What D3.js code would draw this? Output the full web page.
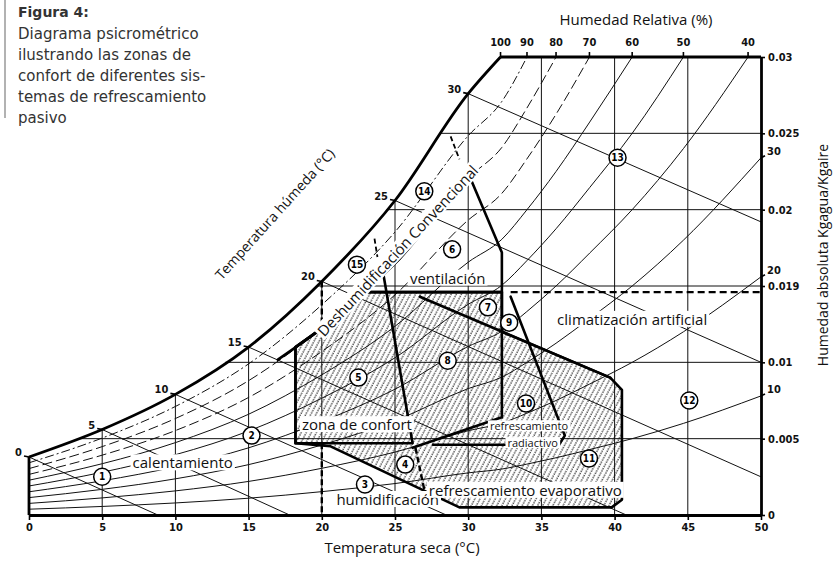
<!DOCTYPE html>
<html>
<head>
<meta charset="utf-8">
<script src="https://cdn.jsdelivr.net/npm/d3@7"></script>
<style>
body { margin: 0; background: #fff; }
svg { display: block; }
</style>
</head>
<body>
<script>
// saturation curve (dry bulb °C, kg/kg), extended past the frame using the RH crossings
var satT = [0, 5, 10, 15, 20, 25, 30, 32.3, 34, 36, 38.3, 41.2, 44.7, 50];
var satW = [0.0038, 0.0056, 0.0079, 0.0110, 0.0153, 0.0206, 0.0276, 0.0301, 0.0333, 0.0375, 0.0429, 0.0500, 0.0600, 0.0780];

var rhLevels = [100, 90, 80, 70, 60, 50, 40, 30, 20, 10];
var dryTicks = [0, 5, 10, 15, 20, 25, 30, 35, 40, 45, 50];
var gridT = [5, 10, 15, 20, 25, 30, 35, 40, 45];
var gridW = [0.005, 0.01, 0.015, 0.02, 0.025];
var wTicks = [0, 0.005, 0.01, 0.015, 0.02, 0.025, 0.03];
var wTickLabels = ["0", "0.005", "0.01", "0.019", "0.02", "0.025", "0.03"];

// wet bulb lines: start on saturation, end point
var wbTemps = [0, 5, 10, 15, 20, 25, 30];
var wbEndT = [8.8, 17.8, 28.5, 40.8, 50, 50, 50];
var wbEndW = [0, 0, 0, 0, 0.0025, 0.0100, 0.0192];

// zones
var zoneRH = 0.8;                 // thick inner curve
var ventW = 0.0146;               // ventilation limit
var comfortT = [18.2, 24.2, 26.2];
var comfortW = [0.0047, 0.0047];
var evapT = [32.3, 32.3, 39.7, 40.5, 40.5, 39.8, 29.4, 20.6];
var evapW = [0.0146, 0.0120, 0.0090, 0.0082, 0.0010, 0.0005, 0.0005, 0.0045];
var ventApexT = 30.1;
var ventT = [32.3, 32.3];
var ventW2 = [0.0172, 0.0146];
var coolDiagT = [26.7, 39.7], coolDiagW = [0.0143, 0.0090];
var radT = [32.9, 36.6, 36.2, 27.6], radW = [0.0143, 0.0052, 0.0046, 0.0046];
var radStemT = [32.3, 32.3, 26.2], radStemW = [0.0146, 0.0064, 0.0044];
var dashT20W = [[0.0153, 0.0122], [0.0047, 0]];
var dashHumT = [26.4, 27.1], dashHumW = [0.0044, 0.0012];
var dehumDashT = [[28.8, 29.4], [23.6, 23.8]];
var dehumDashW = [[0.0248, 0.0233], [0.0181, 0.0169]];

// numbered zones
var markerIds = [1, 2, 3, 4, 5, 6, 7, 8, 9, 10, 11, 12, 13, 14, 15];
var markerT = [5.0, 15.2, 22.95, 25.7, 22.5, 28.9, 31.35, 28.6, 32.8, 33.95, 38.25, 45.1, 40.2, 27.0, 22.4];
var markerW = [0.0025, 0.0052, 0.0020, 0.0033, 0.0090, 0.0174, 0.0136, 0.0101, 0.0126, 0.0073, 0.0037, 0.0075, 0.0234, 0.0212, 0.0164];

var zoneNames = ["calentamiento", "zona de confort", "ventilación", "humidificación", "refrescamiento evaporativo", "climatización artificial"];
var zoneNameT = [10.5, 22.4, 28.6, 24.5, 33.9, 41.2];
var zoneNameW = [0.0034, 0.0059, 0.0155, 0.0010, 0.0016, 0.0128];
var radNames = ["refrescamiento", "radiactivo"];
var radNameT = [34.15, 34.4];
var radNameW = [0.0058, 0.0047];

var captionTitle = "Figura 4:";
var captionLines = ["Diagrama psicrométrico", "ilustrando las zonas de", "confort de diferentes sis-", "temas de refrescamiento", "pasivo"];

var x = d3.scaleLinear().domain([0, 50]).range([29, 761]);
var y = d3.scaleLinear().domain([0, 0.03]).range([515, 57]);
var wsat = d3.scaleLinear().domain(satT).range(satW);
var tsat = d3.scaleLinear().domain(satW).range(satT);

function rhEnd(r) { return r * wsat(50) > 0.03 ? tsat(0.03 / r) : 50; }
function rhCurve(r, t0, t1) {
    var ts = [t0].concat(satT.filter(t => t > t0 + 0.05 && t < t1 - 0.05), [t1]);
    return ts.map(t => [t, r * wsat(t)]);
}
function px(p) { return [x(p[0]), y(p[1])]; }
function zip(ts, ws) { return ts.map((t, i) => [t, ws[i]]); }
var lin = d3.line();
var smooth = d3.line().curve(d3.curveMonotoneX);
// path made of linear and curved pieces
function pathOf(parts, close) {
    return parts.map((p, i) => {
        var s = (p.curved ? smooth : lin)(p.pts.map(px));
        return i ? s.replace(/^M/, "L") : s;
    }).join("") + (close ? "Z" : "");
}

var svg = d3.select("body").append("svg").attr("width", 836).attr("height", 577)
    .style("font-family", "'Open Sans', sans-serif");

var defs = svg.append("defs");
var pat = defs.append("pattern").attr("id", "hatch").attr("patternUnits", "userSpaceOnUse")
    .attr("width", 4.5).attr("height", 5).attr("patternTransform", "rotate(28)");
pat.append("line").attr("x1", 1).attr("y1", 0).attr("x2", 1).attr("y2", 5)
    .attr("stroke", "#000").attr("stroke-width", 1).attr("stroke-dasharray", "1.5,1");

// caption
svg.append("line").attr("x1", 5).attr("x2", 5).attr("y1", 0).attr("y2", 118)
    .attr("stroke", "#999").attr("stroke-width", 1.5);
svg.append("text").attr("x", 18).attr("y", 17).text(captionTitle)
    .style("font-family", "'DejaVu Sans', sans-serif").style("font-weight", "bold")
    .style("font-size", "14px").attr("fill", "#333");
svg.selectAll("text.cap").data(captionLines).enter().append("text").attr("class", "cap")
    .attr("x", 18).attr("y", (d, i) => 39 + i * 21).text(d => d)
    .style("font-family", "'DejaVu Sans', sans-serif").style("font-size", "15px").attr("fill", "#333");

// hatched passive cooling area
var t80v = tsat(ventW / zoneRH);
var evapPath = pathOf([
    { pts: [[comfortT[0], comfortW[0]]] },
    { pts: rhCurve(zoneRH, comfortT[0], t80v), curved: true },
    { pts: zip(evapT, evapW) }
], true);
svg.append("path").attr("d", evapPath).attr("fill", "url(#hatch)").attr("stroke", "none");

var grid = svg.append("g").attr("fill", "none").attr("stroke", "#111").attr("stroke-width", 1);

// dry bulb verticals
grid.selectAll("line.v").data(gridT).enter().append("line").attr("class", "v")
    .attr("x1", d => x(d)).attr("x2", d => x(d))
    .attr("y1", y(0)).attr("y2", d => y(Math.min(wsat(d), 0.03)));
// humidity horizontals
grid.selectAll("line.h").data(gridW).enter().append("line").attr("class", "h")
    .attr("x1", d => x(tsat(d))).attr("x2", x(50))
    .attr("y1", d => y(d)).attr("y2", d => y(d));
// wet bulb lines
grid.selectAll("line.wb").data(wbTemps).enter().append("line").attr("class", "wb")
    .attr("x1", d => x(d)).attr("y1", d => y(wsat(d)))
    .attr("x2", (d, i) => x(wbEndT[i])).attr("y2", (d, i) => y(wbEndW[i]));
// relative humidity curves
function rhDash(r) {
    if (r === 90) return "9,3,2,3";
    if (r === 80 || r === 70) return "10,4";
    return null;
}
grid.selectAll("path.rh").data(rhLevels.filter(r => r < 100)).enter().append("path").attr("class", "rh")
    .attr("d", r => smooth(rhCurve(r / 100, 0, rhEnd(r / 100)).map(px)))
    .attr("stroke-dasharray", r => rhDash(r));

// thick zone outlines
var thick = svg.append("g").attr("fill", "none").attr("stroke", "#000").attr("stroke-width", 2.6)
    .attr("stroke-linejoin", "round").attr("stroke-linecap", "round");
thick.append("path").attr("d", evapPath);
thick.append("path").attr("d", pathOf([
    { pts: [[comfortT[0], comfortW[0]]] },
    { pts: rhCurve(zoneRH, comfortT[0], comfortT[1]), curved: true },
    { pts: [[comfortT[2], comfortW[1]]] }
], true));
thick.append("path").attr("d", smooth(rhCurve(zoneRH, 17, ventApexT).map(px)));
thick.append("path").attr("d", pathOf([
    { pts: rhCurve(zoneRH, t80v, ventApexT), curved: true },
    { pts: zip(ventT, ventW2) }
], true));
thick.append("path").attr("d", lin(zip(coolDiagT, coolDiagW).map(px)));
thick.append("path").attr("d", lin(zip(radT, radW).map(px)));
thick.append("path").attr("d", lin(zip(radStemT, radStemW).map(px)));

var dashed = svg.append("g").attr("fill", "none").attr("stroke", "#000").attr("stroke-width", 2.4);
dashed.append("line").attr("x1", x(ventT[0] + 0.6)).attr("x2", x(50))
    .attr("y1", y(ventW)).attr("y2", y(ventW)).attr("stroke-dasharray", "7,4");
dashT20W.forEach(seg => dashed.append("line").attr("x1", x(20)).attr("x2", x(20))
    .attr("y1", y(seg[0])).attr("y2", y(seg[1])).attr("stroke-dasharray", "6,3"));
dashed.append("path").attr("d", lin(zip(dashHumT, dashHumW).map(px))).attr("stroke-dasharray", "6,3");
dehumDashT.forEach((ts, i) => dashed.append("path").attr("d", lin(zip(ts, dehumDashW[i]).map(px)))
    .attr("stroke-dasharray", "5,3").attr("stroke-width", 1.8));

// saturation curve and frame
svg.append("path").attr("fill", "none").attr("stroke", "#000").attr("stroke-width", 2.8)
    .attr("d", smooth(rhCurve(1, 0, tsat(0.03)).map(px)));
var frame = svg.append("g").attr("stroke", "#000").attr("stroke-width", 2.8);
frame.append("line").attr("x1", x(tsat(0.03))).attr("x2", x(50)).attr("y1", y(0.03)).attr("y2", y(0.03));
frame.append("line").attr("x1", x(0)).attr("x2", x(0)).attr("y1", y(0)).attr("y2", y(wsat(0)));

var tickFont = "'DejaVu Sans Condensed', 'DejaVu Sans', sans-serif";
var xAxis = d3.axisBottom(x).tickValues(dryTicks).tickSize(5).tickSizeOuter(0);
var gx = svg.append("g").attr("transform", "translate(0," + y(0) + ")").call(xAxis);
var yAxis = d3.axisRight(y).tickValues(wTicks).tickFormat((d, i) => wTickLabels[i]).tickSize(4).tickSizeOuter(0);
var gy = svg.append("g").attr("transform", "translate(" + x(50) + ",0)").call(yAxis);
[gx, gy].forEach(g => {
    g.select(".domain").attr("stroke-width", 2.8);
    g.selectAll(".tick line").attr("stroke-width", 1.6);
    g.selectAll(".tick text").style("font-family", tickFont).style("font-weight", "bold")
        .style("font-size", "11px").attr("fill", "#111");
});

// wet bulb labels on the saturation curve
var lbl = svg.append("g").style("font-family", tickFont).style("font-weight", "bold").style("font-size", "11px").attr("fill", "#111");
wbTemps.forEach(t => {
    var p = px([t, wsat(t)]);
    svg.append("line").attr("x1", p[0] - 5).attr("x2", p[0]).attr("y1", p[1] - 1).attr("y2", p[1])
        .attr("stroke", "#000").attr("stroke-width", 1.6);
    lbl.append("text").attr("x", p[0] - 7).attr("y", p[1] - 1).attr("text-anchor", "end").text(t);
});
// RH labels
rhLevels.forEach(rh => {
    var r = rh / 100, t = rhEnd(r);
    if (t < 50) {
        svg.append("line").attr("x1", x(t)).attr("x2", x(t)).attr("y1", y(0.03)).attr("y2", y(0.03) - 5)
            .attr("stroke", "#000").attr("stroke-width", 1.6);
        lbl.append("text").attr("x", x(t)).attr("y", y(0.03) - 11).attr("text-anchor", "middle").text(rh);
    } else {
        var yy = y(r * wsat(50));
        svg.append("line").attr("x1", x(50)).attr("x2", x(50) + 4).attr("y1", yy).attr("y2", yy - 2)
            .attr("stroke", "#000").attr("stroke-width", 1.6);
        lbl.append("text").attr("x", x(50) + 6).attr("y", yy - 3).text(rh);
    }
});

// label with white background
function boxed(g, str, cx, cy, size, rot) {
    var gg = g.append("g").attr("transform", "translate(" + cx + "," + cy + ")" + (rot ? " rotate(" + rot + ")" : ""));
    var t = gg.append("text").attr("text-anchor", "middle").attr("dy", "0.35em").style("font-size", size + "px").attr("fill", "#111").text(str);
    var b = t.node().getBBox();
    gg.insert("rect", "text").attr("x", b.x - 2).attr("y", b.y + 2).attr("width", b.width + 4).attr("height", b.height - 4).attr("fill", "#fff");
    return gg;
}
var names = svg.append("g");
zoneNames.forEach((s, i) => boxed(names, s, x(zoneNameT[i]), y(zoneNameW[i]), 15));
radNames.forEach((s, i) => boxed(names, s, x(radNameT[i]), y(radNameW[i]), 11));
boxed(names, "Deshumidificación Convencional", x(25.2), y(0.0173), 15, -47);
boxed(names, "Temperatura húmeda (°C)", x(16.8), y(0.0197), 14, -48);
boxed(names, "Humedad Relativa (%)", 636, 20, 15);
boxed(names, "Temperatura seca (°C)", 402, 548, 15);
boxed(names, "Humedad absoluta Kgagua/Kgaire", 823, 255, 14, -90);

// numbered circles
var mk = svg.selectAll("g.mk").data(markerIds).enter().append("g").attr("class", "mk")
    .attr("transform", (d, i) => "translate(" + x(markerT[i]) + "," + y(markerW[i]) + ")");
mk.append("circle").attr("r", 8.5).attr("fill", "#fff").attr("stroke", "#000").attr("stroke-width", 1.5);
mk.append("text").attr("text-anchor", "middle").attr("dy", "0.36em").text(d => d)
    .style("font-family", tickFont).style("font-weight", "bold").style("font-size", "10px").attr("fill", "#000");
</script>
</body>
</html>
